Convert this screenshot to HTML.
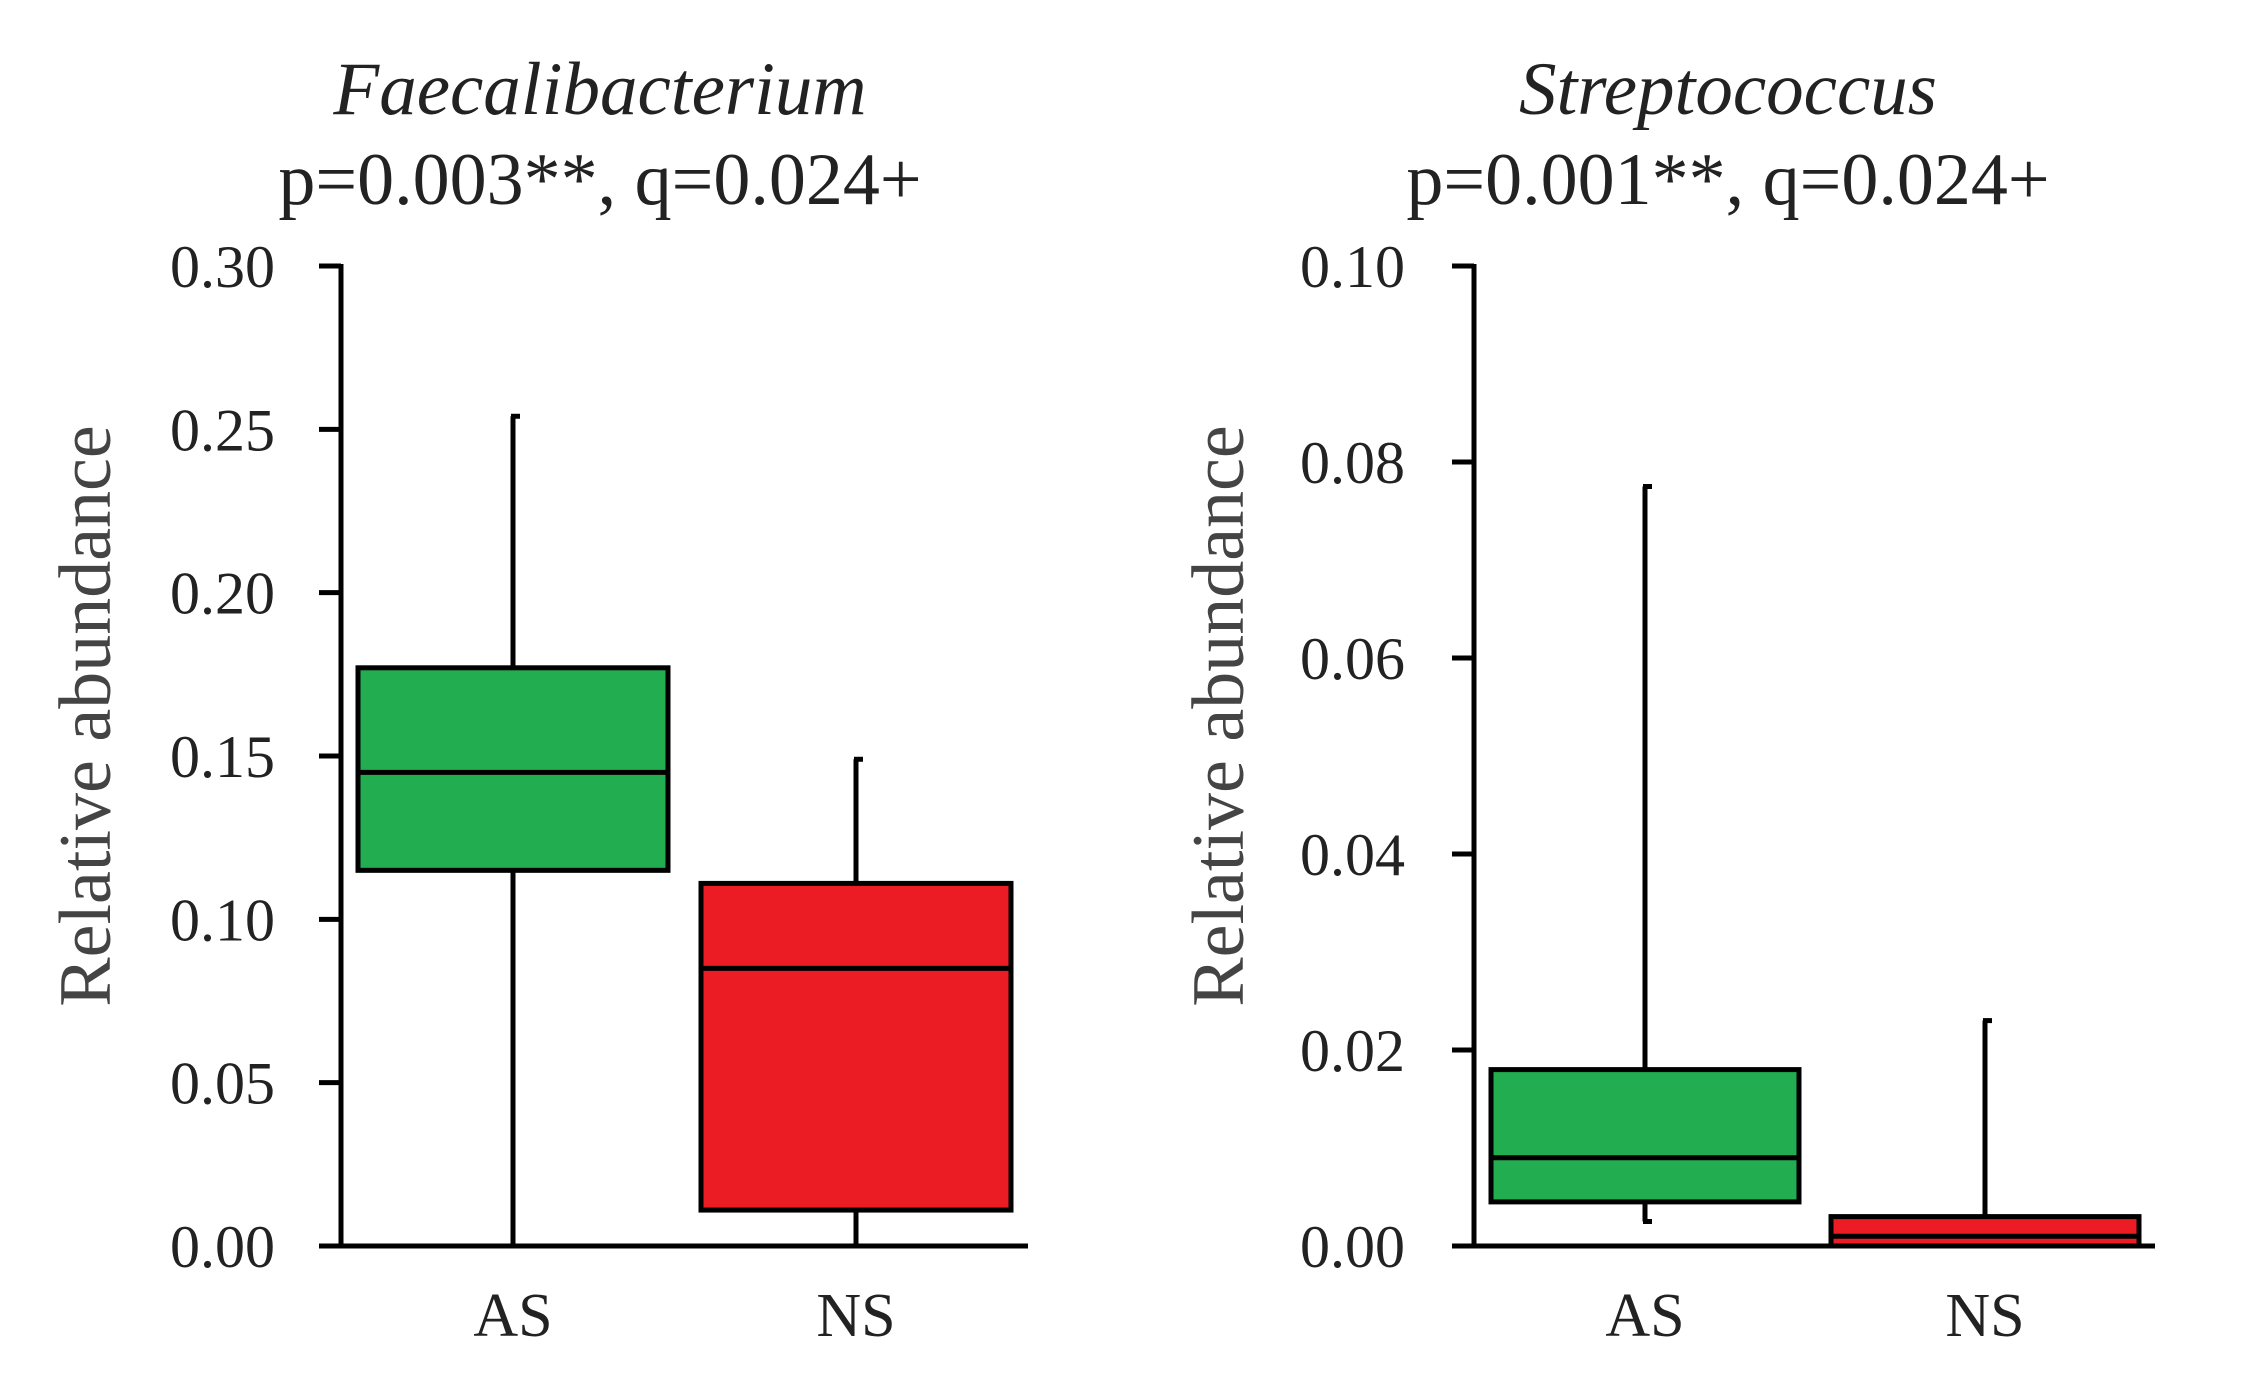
<!DOCTYPE html>
<html><head><meta charset="utf-8"><style>
html,body{margin:0;padding:0;background:#fff;}
svg{display:block;font-family:"Liberation Serif",serif;}
</style></head><body>
<svg id="chart" width="2243" height="1390" viewBox="0 0 2243 1390" xmlns="http://www.w3.org/2000/svg"></svg>
<script>
const categories = ["AS", "NS"];
const fColors = ["#22ad50", "#ec1c24"];
// [whiskerLow, q1, median, q3, whiskerHigh]
const faecalAS = [0.0, 0.115, 0.145, 0.177, 0.254];
const faecalNS = [0.0, 0.011, 0.085, 0.111, 0.149];
const faecalTicks = ["0.00","0.05","0.10","0.15","0.20","0.25","0.30"];
const strepAS = [0.0025, 0.0045, 0.009, 0.018, 0.0775];
const strepNS = [0.0, 0.0, 0.001, 0.003, 0.023];
const strepTicks = ["0.00","0.02","0.04","0.06","0.08","0.10"];

const NS = "http://www.w3.org/2000/svg";
const svg = document.getElementById("chart");
function mk(tag, attrs, parent){
  const e = document.createElementNS(NS, tag);
  for (const k in attrs) e.setAttribute(k, attrs[k]);
  (parent||svg).appendChild(e);
  return e;
}
function panel(cfg){
  const g = mk("g", {});
  
  
  const yTop = 266, yBot = 1246, SW = 5;
  const maxV = parseFloat(cfg.ticks[cfg.ticks.length-1]);
  const y = v => yBot - (v / maxV) * (yBot - yTop);
  const t1 = mk("text", {x: cfg.titleX, y: 114, "text-anchor":"middle", "font-size":75, "font-style":"italic", fill:"#222"}, g);
  t1.textContent = cfg.title;
  
  
  const t2 = mk("text", {x: cfg.titleX, y: 204, "text-anchor":"middle", "font-size":74, fill:"#222"}, g);
  t2.textContent = cfg.stats;
  
  
  const yl = mk("text", {x: 0, y: 0, "text-anchor":"middle", "font-size":74, fill:"#444", transform:`translate(${cfg.ylabX},716) rotate(-90)`}, g);
  yl.textContent = "Relative abundance";
  
  
  const ya = mk("line", {x1: cfg.axX, y1: yTop-2, x2: cfg.axX, y2: yBot+2, stroke:"#000", "stroke-width":SW}, g);
  
  
  const xa = mk("line", {x1: cfg.axX-22, y1: yBot, x2: cfg.axEnd, y2: yBot, stroke:"#000", "stroke-width":SW}, g);
  
  
  cfg.ticks.forEach(tl => {
    const v = parseFloat(tl);
    const tk = mk("line", {x1: cfg.axX-22, y1: y(v), x2: cfg.axX, y2: y(v), stroke:"#000", "stroke-width":SW}, g);
    
    
    const tt = mk("text", {x: cfg.tickRight, y: y(v)+21, "text-anchor":"end", "font-size":60, fill:"#222"}, g);
    tt.textContent = tl;
    
    
  });
  cfg.data.forEach((d, i) => {
    const cx = cfg.centers[i], hw = cfg.halfW;
    const wl = mk("line", {x1: cx, y1: y(d[0]), x2: cx, y2: y(d[4]), stroke:"#000", "stroke-width":SW}, g);
    
    
    [d[0], d[4]].forEach(v => {
      if (v > 0) {
        const cap = mk("line", {x1: cx-2, y1: y(v), x2: cx+7, y2: y(v), stroke:"#000", "stroke-width":SW}, g);
        
        
      }
    });
    const bx = mk("rect", {x: cx-hw, y: y(d[3]), width: 2*hw, height: Math.max(y(d[1]) - y(d[3]), 0), fill: fColors[i], stroke:"#000", "stroke-width":SW}, g);
    
    
    const md = mk("line", {x1: cx-hw, y1: y(d[2]), x2: cx+hw, y2: y(d[2]), stroke:"#000", "stroke-width":SW}, g);
    
    
    const xl = mk("text", {x: cx, y: 1336, "text-anchor":"middle", "font-size":62, fill:"#222"}, g);
    xl.textContent = categories[i];
    
    
  });
}
panel({name:"faecalibacterium-panel", title:"Faecalibacterium", stats:"p=0.003**, q=0.024+",
  titleX:600, ylabX:110, axX:341, axEnd:1028, tickRight:275, ticks:faecalTicks,
  data:[faecalAS, faecalNS], centers:[513, 856], halfW:155});
panel({name:"streptococcus-panel", title:"Streptococcus", stats:"p=0.001**, q=0.024+",
  titleX:1728, ylabX:1243, axX:1474, axEnd:2155, tickRight:1405, ticks:strepTicks,
  data:[strepAS, strepNS], centers:[1645, 1985], halfW:154});
</script>
</body></html>
